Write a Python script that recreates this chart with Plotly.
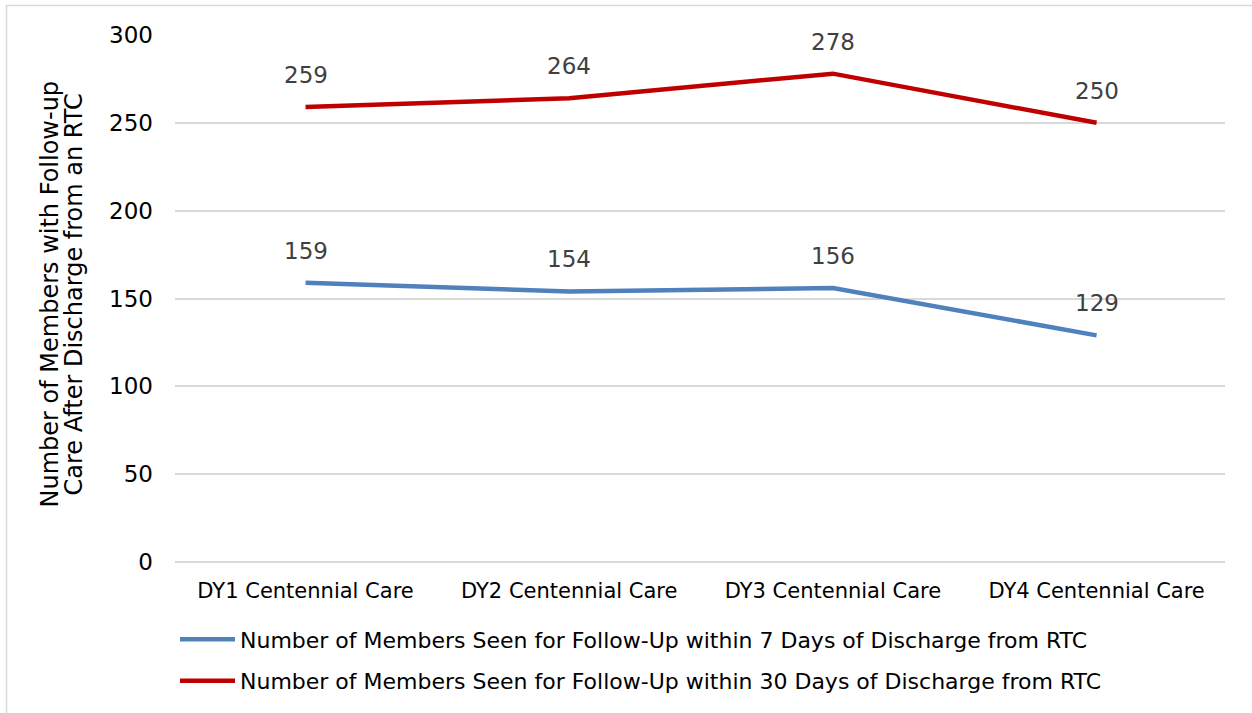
import plotly.graph_objects as go

categories = ["DY1 Centennial Care", "DY2 Centennial Care", "DY3 Centennial Care", "DY4 Centennial Care"]
seven_day = [159, 154, 156, 129]
thirty_day = [259, 264, 278, 250]
series_names = [
    "Number of Members Seen for Follow-Up within 7 Days of Discharge from RTC",
    "Number of Members Seen for Follow-Up within 30 Days of Discharge from RTC",
]
y_ticks = [0, 50, 100, 150, 200, 250, 300]
y_title_lines = ["Number of Members with Follow-up", "Care After Discharge from an RTC"]

FONT = "DejaVu Sans"
colors = ["#4F81BD", "#C00000"]

L, T, W, H = 175, 35, 1050, 528

fig = go.Figure()
for i, (name, vals) in enumerate(zip(series_names, [seven_day, thirty_day])):
    fig.add_trace(go.Scatter(
        x=categories, y=vals, mode="lines", name=name,
        line=dict(color=colors[i], width=4.5),
        legendgroup=f"g{i}",
    ))
    for c, v in zip(categories, vals):
        fig.add_annotation(x=c, y=v, text=str(v), showarrow=False,
                           yshift=32, font=dict(family=FONT, size=23, color="#404040"))

# y-axis title as two rotated lines
for px, line in zip([50, 74], y_title_lines):
    fig.add_annotation(xref="paper", yref="paper", x=(px - L) / W, y=(T + H - 295) / H,
                       xanchor="center", yanchor="middle", text=line, textangle=-90,
                       showarrow=False, font=dict(family=FONT, size=24, color="black"))

fig.add_shape(type="rect", xref="paper", yref="paper",
              x0=(6.5 - L) / W, x1=1.1, y0=-0.5, y1=1 + (T - 5.5) / H,
              line=dict(color="#D9D9D9", width=1.5), fillcolor="rgba(0,0,0,0)", layer="below")

fig.update_layout(
    width=1252, height=713,
    margin=dict(l=L, r=1252 - L - W, t=T, b=713 - T - H),
    paper_bgcolor="white", plot_bgcolor="white",
    font=dict(family=FONT, size=18, color="black"),
    showlegend=True,
    legend=dict(x=0.0, y=-0.105, xanchor="left", yanchor="top", orientation="v",
                font=dict(family=FONT, size=22, color="black"),
                itemwidth=55, tracegroupgap=10, bgcolor="rgba(0,0,0,0)"),
    xaxis=dict(type="category", range=[-0.495, 3.487], showgrid=False, showline=False,
               ticks="", ticklabelstandoff=14,
               tickfont=dict(family=FONT, size=21, color="black")),
    yaxis=dict(range=[0, 300], tickvals=y_ticks, showgrid=True, gridcolor="#D9D9D9",
               gridwidth=1.5, zeroline=True, zerolinecolor="#D9D9D9", zerolinewidth=1.5,
               showline=False, ticks="", ticklabelstandoff=21,
               tickfont=dict(family=FONT, size=23, color="black")),
)

fig.write_html("out.html", config={"displayModeBar": False},
               post_script="document.body.style.margin='0';")
